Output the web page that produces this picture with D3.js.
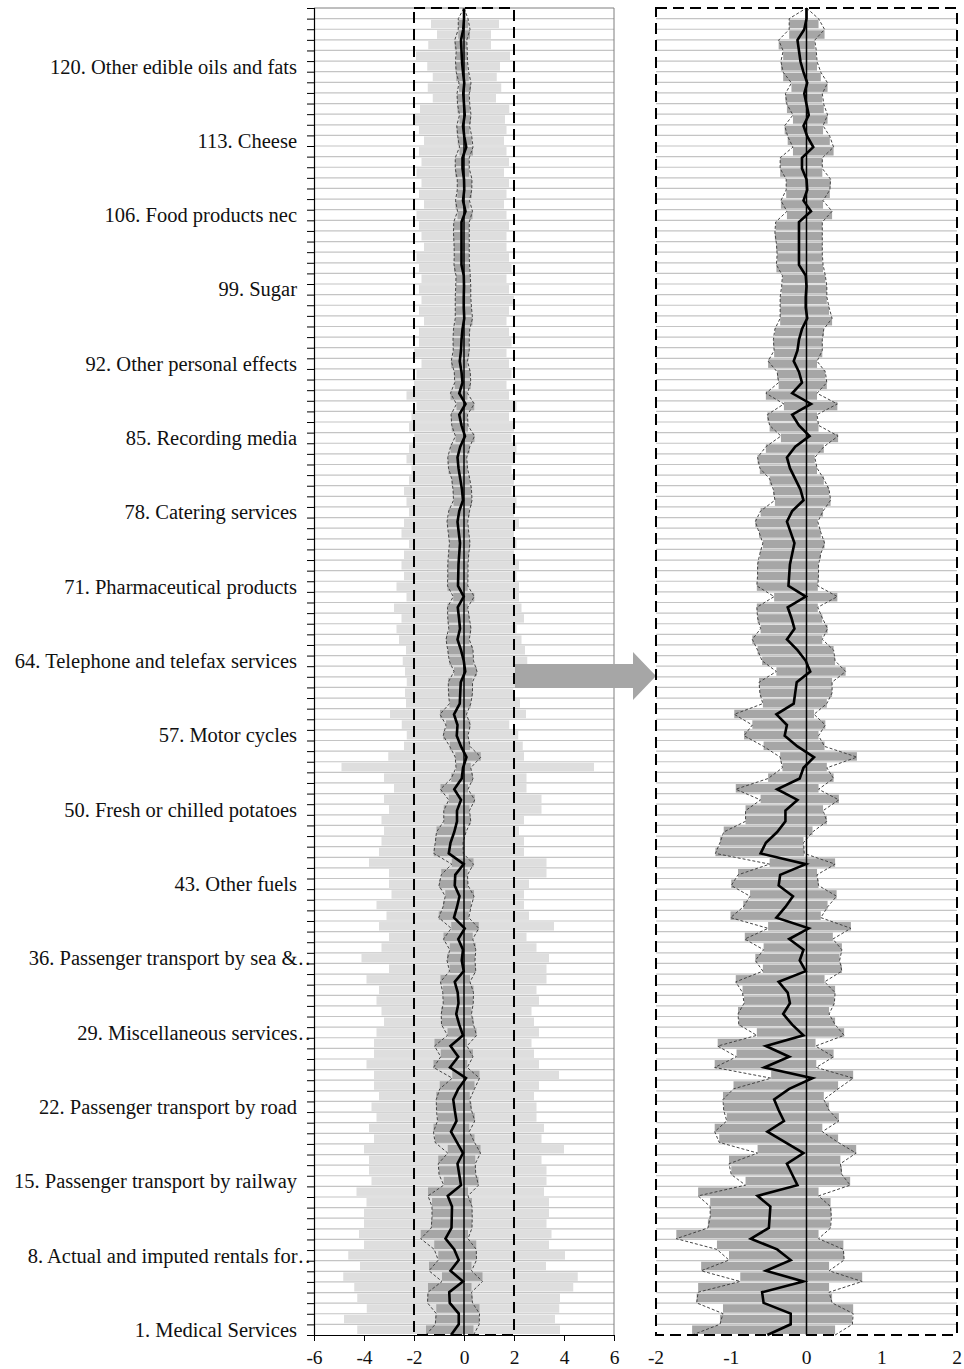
<!DOCTYPE html>
<html>
<head>
<meta charset="utf-8">
<script src="https://cdn.jsdelivr.net/npm/d3@7"></script>
<style>
  body { margin: 0; background: #fff; }
  text { font-family: "Liberation Serif", "Times New Roman", serif; }
</style>
</head>
<body>
<svg id="chart" width="964" height="1369"></svg>
<script>
// category 1 is the bottom row, category 125 the (empty) top row
const labelCats = [1, 8, 15, 22, 29, 36, 43, 50, 57, 64, 71, 78, 85, 92, 99, 106, 113, 120]
const labelText = [
  "1. Medical Services", "8. Actual and imputed rentals for…", "15. Passenger transport by railway",
  "22. Passenger transport by road", "29. Miscellaneous services…", "36. Passenger transport by sea &…",
  "43. Other fuels", "50. Fresh or chilled potatoes", "57. Motor cycles",
  "64. Telephone and telefax services", "71. Pharmaceutical products", "78. Catering services",
  "85. Recording media", "92. Other personal effects", "99. Sugar",
  "106. Food products nec", "113. Cheese", "120. Other edible oils and fats"
]
const clipped = [8, 29, 36]

// light grey bars: full range
const lightLo = [
  -4.27, -4.80, -3.89, -4.27, -4.39, -4.83, -4.16, -4.63, -4.0, -4.2,
  -4.0, -4.0, -3.9, -4.3, -3.7, -3.8, -3.8, -4.0, -3.6, -3.8,
  -3.5, -3.7, -3.4, -3.6, -3.6, -3.9, -3.6, -3.6, -3.5, -3.2,
  -3.3, -3.5, -3.4, -3.9, -3.0, -4.1, -3.3, -3.0, -3.4, -3.1,
  -3.5, -2.9, -3.0, -3.0, -3.8, -3.4, -3.3, -3.2, -3.3, -3.0,
  -3.2, -2.8, -3.2, -4.9, -3.03, -2.40, -2.29, -2.49, -2.96, -2.32,
  -2.36, -2.29, -2.36, -2.45, -2.32, -2.6, -2.7, -2.5, -2.8, -2.3,
  -2.7, -2.4, -2.5, -2.4, -2.2, -2.5, -2.4, -2.2, -2.3, -2.4,
  -2.2, -2.1, -2.3, -2.2, -2.0, -2.2, -2.1, -1.9, -2.3, -2.0,
  -1.9, -1.7, -2.0, -1.8, -1.8, -1.6, -1.8, -1.7, -1.8, -1.7,
  -1.8, -1.9, -1.6, -1.7, -1.8, -1.9, -1.6, -1.8, -1.7, -1.9,
  -1.7, -1.8, -1.6, -1.8, -1.96, -1.76, -1.25, -1.45, -1.25, -1.47,
  -1.92, -1.43, -1.08, -1.32, 0
]
const lightHi = [
  3.84, 3.64, 3.81, 3.84, 4.37, 4.55, 3.28, 4.04, 3.4, 3.5,
  3.3, 3.4, 3.4, 3.2, 3.3, 3.3, 3.1, 4.0, 3.1, 3.2,
  2.9, 2.9, 2.8, 3.0, 3.8, 3.0, 2.8, 2.7, 3.0, 2.8,
  2.7, 3.0, 2.9, 3.3, 3.3, 3.4, 2.9, 2.5, 3.6, 2.6,
  2.4, 2.4, 2.6, 3.3, 3.3, 2.4, 2.4, 2.2, 2.4, 3.1,
  3.1, 2.5, 2.5, 5.2, 2.40, 2.35, 2.17, 1.81, 2.48, 2.24,
  1.97, 2.17, 2.24, 2.53, 2.44, 2.3, 2.1, 2.4, 2.3, 2.2,
  2.2, 2.1, 2.2, 2.0, 2.1, 2.0, 2.2, 2.0, 2.1, 1.9,
  2.0, 1.9, 2.0, 2.1, 1.9, 2.0, 1.8, 2.1, 1.8, 1.7,
  1.9, 1.8, 1.7, 1.9, 1.8, 1.7, 1.8, 2.0, 1.8, 1.7,
  1.9, 1.8, 1.7, 1.7, 1.8, 1.7, 1.6, 1.7, 1.8, 1.6,
  1.8, 1.7, 1.6, 1.7, 1.64, 1.81, 1.28, 1.49, 1.31, 1.44,
  1.84, 1.08, 1.08, 1.40, 0
]

// dark grey bars (and dotted outline): inner range
const darkLo = [
  -1.52, -1.15, -1.11, -1.46, -1.44, -0.88, -1.40, -1.03, -1.19, -1.73,
  -1.31, -1.28, -1.28, -1.44, -0.81, -1.00, -1.03, -0.65, -1.16, -1.22,
  -1.06, -1.10, -1.11, -0.97, -0.47, -1.22, -0.93, -1.18, -0.66, -0.90,
  -0.91, -0.83, -0.85, -0.94, -0.58, -0.68, -0.57, -0.82, -0.51, -1.01,
  -0.84, -0.75, -1.00, -0.91, -0.49, -1.21, -1.15, -1.10, -0.81, -0.81,
  -0.61, -0.94, -0.51, -0.32, -0.35, -0.57, -0.83, -0.72, -0.96, -0.58,
  -0.62, -0.63, -0.40, -0.59, -0.65, -0.72, -0.61, -0.65, -0.66, -0.43,
  -0.66, -0.65, -0.65, -0.62, -0.58, -0.63, -0.68, -0.61, -0.42, -0.44,
  -0.49, -0.62, -0.65, -0.54, -0.34, -0.49, -0.52, -0.30, -0.54, -0.37,
  -0.39, -0.51, -0.43, -0.44, -0.42, -0.35, -0.35, -0.35, -0.33, -0.32,
  -0.40, -0.39, -0.40, -0.42, -0.41, -0.26, -0.34, -0.27, -0.27, -0.35,
  -0.35, -0.18, -0.25, -0.29, -0.18, -0.26, -0.28, -0.20, -0.31, -0.34,
  -0.31, -0.37, -0.23, -0.23, 0
]
const darkHi = [
  0.38, 0.61, 0.62, 0.34, 0.30, 0.74, 0.30, 0.50, 0.49, 0.16,
  0.32, 0.33, 0.32, 0.16, 0.58, 0.47, 0.45, 0.66, 0.42, 0.21,
  0.43, 0.30, 0.23, 0.42, 0.62, 0.13, 0.36, 0.12, 0.50, 0.38,
  0.30, 0.37, 0.38, 0.24, 0.47, 0.44, 0.47, 0.35, 0.59, 0.19,
  0.28, 0.40, 0.16, 0.14, 0.38, -0.03, -0.04, 0.08, 0.27, 0.22,
  0.43, 0.16, 0.36, 0.27, 0.67, 0.24, 0.16, 0.25, 0.10, 0.27,
  0.34, 0.34, 0.52, 0.38, 0.36, 0.21, 0.28, 0.21, 0.15, 0.41,
  0.15, 0.16, 0.16, 0.19, 0.24, 0.19, 0.15, 0.22, 0.32, 0.30,
  0.23, 0.14, 0.11, 0.23, 0.42, 0.16, 0.14, 0.41, 0.14, 0.27,
  0.25, 0.14, 0.21, 0.21, 0.23, 0.34, 0.30, 0.27, 0.27, 0.25,
  0.22, 0.21, 0.21, 0.21, 0.21, 0.34, 0.22, 0.31, 0.32, 0.21,
  0.21, 0.36, 0.31, 0.22, 0.28, 0.23, 0.21, 0.28, 0.19, 0.14,
  0.13, 0.11, 0.24, 0.16, 0
]

// black line: median
const median = [
  -0.52, -0.21, -0.21, -0.57, -0.59, -0.04, -0.54, -0.21, -0.39, -0.74,
  -0.50, -0.49, -0.48, -0.65, -0.12, -0.19, -0.26, -0.04, -0.28, -0.52,
  -0.30, -0.37, -0.43, -0.23, 0.08, -0.56, -0.23, -0.54, -0.04, -0.19,
  -0.31, -0.22, -0.25, -0.37, -0.01, -0.09, -0.04, -0.23, 0.03, -0.40,
  -0.28, -0.18, -0.37, -0.35, -0.01, -0.61, -0.54, -0.39, -0.28, -0.28,
  -0.12, -0.39, -0.09, -0.04, 0.10, -0.12, -0.29, -0.26, -0.40, -0.17,
  -0.15, -0.13, 0.05, -0.01, -0.12, -0.26, -0.16, -0.20, -0.25, -0.01,
  -0.24, -0.23, -0.22, -0.19, -0.16, -0.21, -0.26, -0.19, -0.04, -0.08,
  -0.15, -0.22, -0.26, -0.15, 0.04, -0.10, -0.19, 0.06, -0.19, -0.06,
  -0.10, -0.17, -0.12, -0.10, -0.06, 0.01, -0.01, -0.01, 0.0, -0.01,
  -0.10, -0.10, -0.10, -0.10, -0.10, 0.06, -0.04, 0.01, 0.0, -0.06,
  -0.06, 0.09, 0.01, -0.04, 0.03, 0.0, -0.03, 0.01, -0.04, -0.08,
  -0.10, -0.12, -0.03, 0.0, 0
]

const leftTicks = [-6, -4, -2, 0, 2, 4, 6]
const rightTicks = [-2, -1, 0, 1, 2]

const TOP = 8
const BOTTOM = 1335
const cats = d3.range(1, 126)

const svg = d3.select("#chart")

// long labels get cut at the axis, like the original
svg.append("defs").append("clipPath").attr("id", "labelClip")
  .append("rect").attr("x", 0).attr("y", 0).attr("width", 311).attr("height", 1369)

// bars sit in bands, lines run on an even scale from bottom edge to top edge
const y = d3.scaleBand().domain(cats).range([BOTTOM, TOP]).paddingInner(0.2).paddingOuter(0.1)
const yEdge = d3.scaleLinear().domain([0, 125]).range([BOTTOM, TOP])
const yLine = d3.scaleLinear().domain([1, 125]).range([BOTTOM, TOP])

const xL = d3.scaleLinear().domain([-6, 6]).range([314, 614])
const xR = d3.scaleLinear().domain([-2, 2]).range([656, 957])

function drawPanel(x, withLight) {
  const g = svg.append("g")
  const [x0, x1] = x.range()

  // row separators
  g.selectAll("line.grid")
    .data(d3.range(1, 125))
    .enter().append("line")
    .attr("x1", x0).attr("x2", x1)
    .attr("y1", d => yEdge(d)).attr("y2", d => yEdge(d))
    .attr("stroke", "#c4c4c4").attr("stroke-width", 1.2)

  if (withLight) {
    g.selectAll("rect.light")
      .data(cats)
      .enter().append("rect")
      .attr("x", d => x(lightLo[d - 1]))
      .attr("y", d => y(d))
      .attr("width", d => x(lightHi[d - 1]) - x(lightLo[d - 1]))
      .attr("height", y.bandwidth())
      .attr("fill", "#dedede")
  }

  g.selectAll("rect.dark")
    .data(cats)
    .enter().append("rect")
    .attr("x", d => x(darkLo[d - 1]))
    .attr("y", d => y(d))
    .attr("width", d => x(darkHi[d - 1]) - x(darkLo[d - 1]))
    .attr("height", y.bandwidth())
    .attr("fill", "#a6a6a6")

  const line = d3.line().x(d => x(d)).y((d, i) => yLine(i + 1))

  g.append("path").datum(darkLo).attr("d", line)
    .attr("fill", "none").attr("stroke", "#444").attr("stroke-width", 1)
    .attr("stroke-dasharray", "3,2")
  g.append("path").datum(darkHi).attr("d", line)
    .attr("fill", "none").attr("stroke", "#444").attr("stroke-width", 1)
    .attr("stroke-dasharray", "3,2")

  g.append("path").datum(median).attr("d", line)
    .attr("fill", "none").attr("stroke", "#000").attr("stroke-width", 2.6)
    .attr("stroke-linejoin", "miter")

  g.append("line")
    .attr("x1", x(0)).attr("x2", x(0))
    .attr("y1", TOP).attr("y2", BOTTOM)
    .attr("stroke", "#000").attr("stroke-width", 1.5)
  return g
}

// ----- left panel -----
const left = drawPanel(xL, true)

left.append("line").attr("x1", xL(-6)).attr("x2", xL(6)).attr("y1", TOP).attr("y2", TOP)
  .attr("stroke", "#7f7f7f").attr("stroke-width", 1)
left.append("line").attr("x1", xL(6)).attr("x2", xL(6)).attr("y1", TOP).attr("y2", BOTTOM)
  .attr("stroke", "#7f7f7f").attr("stroke-width", 1)

// dashed window -2..2
left.append("rect")
  .attr("x", xL(-2)).attr("y", TOP)
  .attr("width", xL(2) - xL(-2)).attr("height", BOTTOM - TOP)
  .attr("fill", "none").attr("stroke", "#000").attr("stroke-width", 2)
  .attr("stroke-dasharray", "11,6")

const yAxis = svg.append("g")
  .attr("transform", `translate(${xL(-6)},0)`)
  .call(d3.axisLeft(yEdge).tickValues(d3.range(0, 126)).tickSize(7).tickFormat(""))
yAxis.select(".domain").attr("stroke", "#000").attr("stroke-width", 1.2)
yAxis.selectAll(".tick line").attr("stroke", "#000")

const xAxis = svg.append("g")
  .attr("transform", `translate(0,${BOTTOM})`)
  .call(d3.axisBottom(xL).tickValues(leftTicks).tickSize(6).tickPadding(9).tickSizeOuter(0)
    .tickFormat(d => String(d)))
xAxis.select(".domain").attr("stroke", "#000").attr("stroke-width", 1.2)
xAxis.selectAll(".tick line").attr("stroke", "#000")
xAxis.selectAll("text").attr("font-size", 19.5).attr("fill", "#111")
  .attr("font-family", "Liberation Serif, Times New Roman, serif")

svg.append("g").attr("clip-path", "url(#labelClip)").selectAll("text")
  .data(labelCats)
  .enter().append("text")
  .attr("x", d => clipped.includes(d) ? 318 : 297)
  .attr("y", d => y(d) + y.bandwidth() / 2)
  .attr("dy", "0.35em")
  .attr("text-anchor", "end")
  .attr("font-size", 20.5)
  .attr("fill", "#111")
  .text((d, i) => labelText[i])

// ----- arrow -----
const ay = 676
svg.append("path")
  .attr("d", `M${xL(2) + 1},${ay - 12} L${xR(-2) - 23},${ay - 12} L${xR(-2) - 23},${ay - 24} L${xR(-2)},${ay} L${xR(-2) - 23},${ay + 24} L${xR(-2) - 23},${ay + 12} L${xL(2) + 1},${ay + 12} Z`)
  .attr("fill", "#a6a6a6")

// ----- right panel -----
const right = drawPanel(xR, false)
right.append("rect")
  .attr("x", xR(-2)).attr("y", TOP)
  .attr("width", xR(2) - xR(-2)).attr("height", BOTTOM - TOP)
  .attr("fill", "none").attr("stroke", "#000").attr("stroke-width", 2)
  .attr("stroke-dasharray", "11,6")

svg.append("g").selectAll("text")
  .data(rightTicks)
  .enter().append("text")
  .attr("x", d => xR(d))
  .attr("y", 1357)
  .attr("dy", "0.35em")
  .attr("text-anchor", "middle")
  .attr("font-size", 19.5)
  .attr("fill", "#111")
  .text(d => String(d))
</script>
</body>
</html>
